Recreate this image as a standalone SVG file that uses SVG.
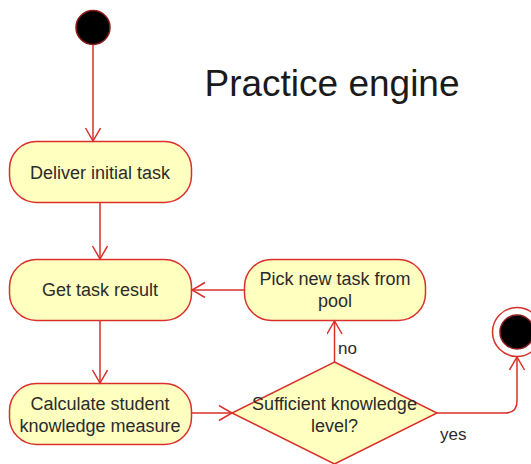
<svg xmlns="http://www.w3.org/2000/svg" width="531" height="464" viewBox="0 0 531 464">
  <style>
    .act { fill: #ffffc0; stroke: #d9302b; stroke-width: 1.5; }
    .lbl { font-family: "Liberation Sans", Arial, sans-serif; font-size: 18px; fill: #2b2b2b; text-anchor: middle; }
    .edge { fill: none; stroke: #d9302b; stroke-width: 1.5; }
    .tag { font-family: "Liberation Sans", Arial, sans-serif; font-size: 17px; fill: #2b2b2b; }
  </style>
  <defs>
    <marker id="open" markerWidth="18" markerHeight="18" refX="14" refY="8" orient="auto" markerUnits="userSpaceOnUse">
      <path d="M1,0.5 L14,8 L1,15.5" fill="none" stroke="#d9302b" stroke-width="1.5"/>
    </marker>
  </defs>
  <rect width="531" height="464" fill="#ffffff"/>

  <text x="332" y="96" font-family="'Liberation Sans', Arial, sans-serif" font-size="37" fill="#1a1a1a" text-anchor="middle">Practice engine</text>

  <g id="start">
    <circle cx="93" cy="27.5" r="17" fill="#000000" stroke="#8b1a1a" stroke-width="1.5"/>
  </g>

  <g id="deliver">
    <rect class="act" x="9.5" y="141.5" width="182" height="61" rx="27"/>
    <text class="lbl" x="100" y="178.5">Deliver initial task</text>
  </g>

  <g id="result">
    <rect class="act" x="9.5" y="259.5" width="182" height="61" rx="27"/>
    <text class="lbl" x="100" y="296">Get task result</text>
  </g>

  <g id="pick">
    <rect class="act" x="244.5" y="259.5" width="181" height="61" rx="27"/>
    <text class="lbl" x="335" y="285">Pick new task from</text>
    <text class="lbl" x="335" y="306.5">pool</text>
  </g>

  <g id="calculate">
    <rect class="act" x="9.5" y="383.5" width="182" height="61" rx="27"/>
    <text class="lbl" x="100" y="410">Calculate student</text>
    <text class="lbl" x="100" y="431.5">knowledge measure</text>
  </g>

  <g id="decision">
    <polygon class="act" points="334.5,362 437,413 334.5,464 232,413"/>
    <text class="lbl" x="334.5" y="410">Sufficient knowledge</text>
    <text class="lbl" x="334.5" y="431.5">level?</text>
  </g>

  <g id="end">
    <circle cx="517" cy="332" r="24.5" fill="#ffffff" stroke="#d9302b" stroke-width="1.5"/>
    <circle cx="517" cy="332" r="17" fill="#000000" stroke="#8b1a1a" stroke-width="1.5"/>
  </g>

  <g id="connectors">
    <path class="edge" d="M93,45 L93,141" marker-end="url(#open)"/>
    <path class="edge" d="M100,203 L100,259" marker-end="url(#open)"/>
    <path class="edge" d="M100,321 L100,383" marker-end="url(#open)"/>
    <path class="edge" d="M192,413 L232,413" marker-end="url(#open)"/>
    <path class="edge" d="M334.5,362 L334.5,321" marker-end="url(#open)"/>
    <path class="edge" d="M244.5,290 L192,290" marker-end="url(#open)"/>
    <path class="edge" d="M437,413 L505,413 Q517,413 517,401 L517,357" marker-end="url(#open)"/>
    <text class="tag" x="338" y="354">no</text>
    <text class="tag" x="440" y="440">yes</text>
  </g>
</svg>
